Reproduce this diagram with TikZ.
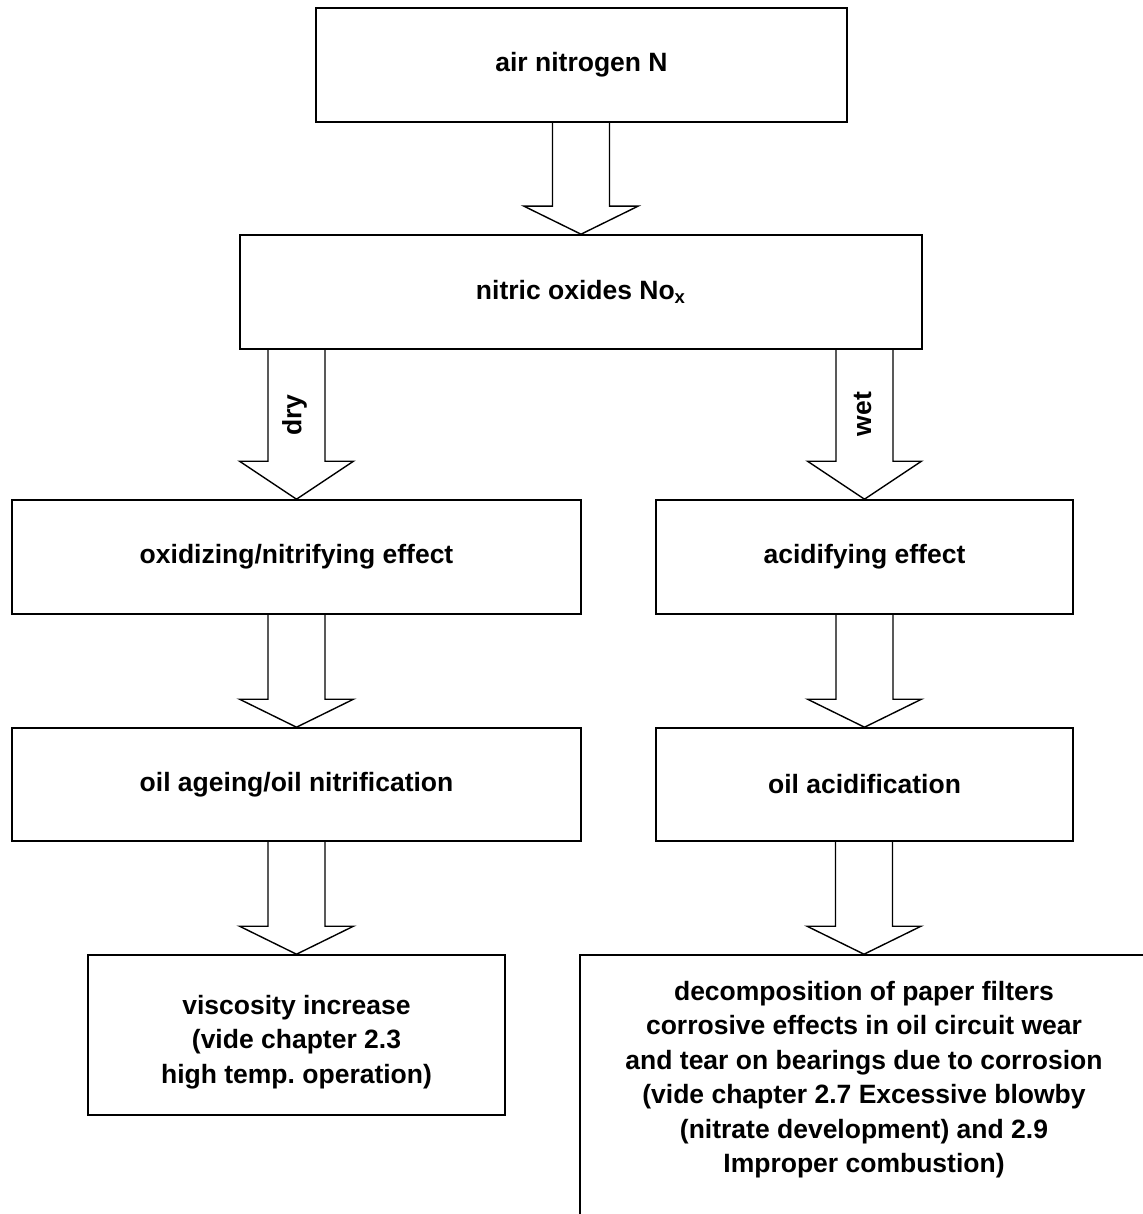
\documentclass[tikz,border=0pt]{standalone}
\usepackage{fontspec}
\setmainfont{Liberation Sans}
\usetikzlibrary{calc}
\frenchspacing

\tikzset{
  box/.style={draw, line width=0.8pt, align=center, inner sep=4pt,
    font=\fontsize{13.25}{17.25}\selectfont\bfseries},
  fatarrow/.style={draw, line width=0.7pt, line join=miter},
  armlabel/.style={rotate=90, inner sep=1pt,
    font=\fontsize{13.25}{17.25}\selectfont\bfseries}
}

\begin{document}
\begin{tikzpicture}[x=0.5pt, y=-0.5pt]
\useasboundingbox (0,0) rectangle (1143,1214);
\clip (0,0) rectangle (1143,1214);

% Boxes of the chain
\node[box, minimum width=265.5pt, minimum height=57pt] (air) at (581.5,65) {air nitrogen N};
\node[box, minimum width=341pt, minimum height=57pt] (nitric) at (581,292) {nitric oxides No\textsubscript{x}};

\node[box, minimum width=284.5pt, minimum height=57pt] (oxid) at (296.5,557) {oxidizing/nitrifying effect};
\node[box, minimum width=208.5pt, minimum height=57pt] (acid) at (864.5,557) {acidifying effect};

\node[box, minimum width=284.5pt, minimum height=56.5pt] (ageing) at (296.5,784.5) {oil ageing/oil nitrification};
\node[box, minimum width=208.5pt, minimum height=56.5pt] (acidif) at (864.5,784.5) {oil acidification};

\node[box, minimum width=208.5pt, minimum height=80pt, text height=51pt] (visc) at (296.5,1035)
  {viscosity increase\\(vide chapter 2.3\\high temp. operation)};
\node[box, minimum width=284pt, minimum height=142.5pt, text depth=20.8pt] (decomp) at (864,1097.5)
  {decomposition of paper filters\\
   corrosive effects in oil circuit wear\\
   and tear on bearings due to corrosion\\
   (vide chapter 2.7 Excessive blowby\\
   (nitrate development) and 2.9\\
   Improper combustion)};

% Draw block arrows
\foreach \from/\to/\hl in {air/nitric/28, nitric/oxid/38, nitric/acid/38,
    oxid/ageing/28, acid/acidif/28, ageing/visc/28, acidif/decomp/28}{
  \draw[fatarrow] ($(\from.south -| \to.north)+(-28.5,0)$) -- ($(\to.north)+(-28.5,-\hl)$)
    -- ($(\to.north)+(-57,-\hl)$) -- (\to.north) -- ($(\to.north)+(57,-\hl)$)
    -- ($(\to.north)+(28.5,-\hl)$) -- ($(\from.south -| \to.north)+(28.5,0)$);
}

% Labels on the arrows
\node[armlabel] (drylbl) at ($(oxid.north)+(-2,-84)$) {dry};
\node[armlabel] (wetlbl) at ($(acid.north)+(-2,-85)$) {wet};

\end{tikzpicture}
\end{document}
